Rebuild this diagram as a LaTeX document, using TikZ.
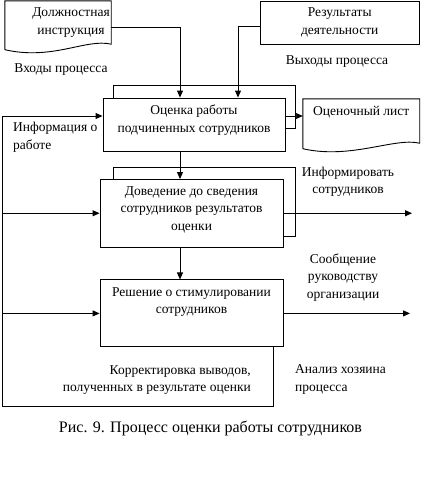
\documentclass[tikz,border=0pt]{standalone}
\usepackage{fontspec}
\setmainfont{Liberation Serif}
\usetikzlibrary{arrows.meta, positioning}

% контур документа с волнистым низом
\newcommand{\wavedoc}[1]{%
  \draw[line] ([yshift=3.5pt]#1.south west) -- (#1.north west) -- (#1.north east)
    -- ([yshift=9pt]#1.south east)
    .. controls ([xshift=-25pt,yshift=15pt]#1.south east) and ([xshift=48pt,yshift=-7.5pt]#1.south west)
    .. ([yshift=3.5pt]#1.south west);}

\begin{document}
\begin{tikzpicture}[
    x=1pt, y=-1pt,
    font=\fontsize{13.5}{17.5}\selectfont,
    line/.style={draw=black, line width=0.9pt},
    proc/.style={rectangle, line, align=center, inner sep=2pt},
    doc/.style={rectangle, inner sep=0pt},
    txt/.style={align=center, inner sep=1pt},
    arrow/.style={line, -{Triangle[length=7pt, width=6pt]}}
]
\useasboundingbox (0,0) rectangle (421,485);

% входы
\node (instr) [doc, minimum width=106pt, minimum height=52pt,
  label={[txt, xshift=13pt, yshift=4.5pt]center:{Должностная\\инструкция}}] at (58,27) {};
\wavedoc{instr}
\node (res) [proc, minimum width=159.5pt, minimum height=43pt] at (339.75,22.5) {Результаты\\деятельности};

% процесс
\node (b1) [proc, minimum width=182pt, minimum height=53pt, text depth=12pt] at (194,124.5)
  {Оценка работы\\подчиненных сотрудников};
\node (b2) [proc, minimum width=183pt, minimum height=67.5pt, text depth=10pt] at (191.5,213.25)
  {Доведение до сведения\\сотрудников результатов\\оценки};
\node (b3) [proc, minimum width=183pt, minimum height=67pt, text depth=26pt, below=32pt of b2]
  {Решение о стимулировании\\сотрудников};
\node (list) [doc, minimum width=116.5pt, minimum height=53pt,
  label={[txt, yshift=13.5pt]center:Оценочный лист}] at (361.25,125.5) {};
\wavedoc{list}

% тени
\draw[line] ([xshift=11pt]b1.north west) |- ([xshift=10pt,yshift=12pt]b1.north east) |- ([yshift=-3.5pt]b1.east);
\draw[line] ([xshift=14pt]b2.north west) |- ([xshift=12pt,yshift=11.5pt]b2.north east) |- ([yshift=-22.75pt]b2.east);

% связи
\coordinate (axis) at (180,0);
\coordinate (axisR) at (238,0);
\coordinate (o1) at ([yshift=8.5pt]b1.east);
\coordinate (i1) at ([yshift=8.5pt]b1.west);
\coordinate (out2) at (412,0);
\coordinate (out3) at (410,0);
\coordinate (fb) at (273,406);
\coordinate (bus) at (2.5,406);

\draw[arrow] (instr.east) -| (b1.north -| axis);
\draw[arrow] ([yshift=-3.5pt]res.west) -| (b1.north -| axisR);
\draw[arrow] (b1.south -| axis) -- (b2.north -| axis);
\draw[arrow] (b2.south -| axis) -- (b3.north -| axis);
\draw[arrow] (o1) -- (o1 -| list.west);
\draw[arrow] (b2.east) -- (b2.east -| out2);
\draw[arrow] (b3.east) -- (b3.east -| out3);

% обратная связь
\draw[arrow] (b3.south -| fb) -- (fb) -- (bus) |- (i1);
\draw[arrow] (bus |- b2.west) -- (b2.west);
\draw[arrow] (bus |- b3.west) -- (b3.west);

% подписи
\node[txt] (inlbl) at (61,70) {Входы процесса};
\node[txt] (outlbl) at (337,62) {Выходы процесса};
\node[txt, anchor=west, align=left] (info) at (12,137.5) {Информация о\\работе};
\node[txt] (inform) at (348,182) {Информировать\\сотрудников};
\node[txt] (report) at (343,277.5) {Сообщение\\руководству\\организации};
\node[txt, anchor=east, align=right] (correct) at (252,380) {Корректировка выводов,\\полученных в результате оценки};
\node[txt, anchor=west, align=left] (owner) at (294,379.5) {Анализ хозяина\\процесса};
\node[txt, font=\fontsize{16}{19}\selectfont] (caption) at (210.5,428) {Рис. 9. Процесс оценки работы сотрудников};
\end{tikzpicture}
\end{document}
